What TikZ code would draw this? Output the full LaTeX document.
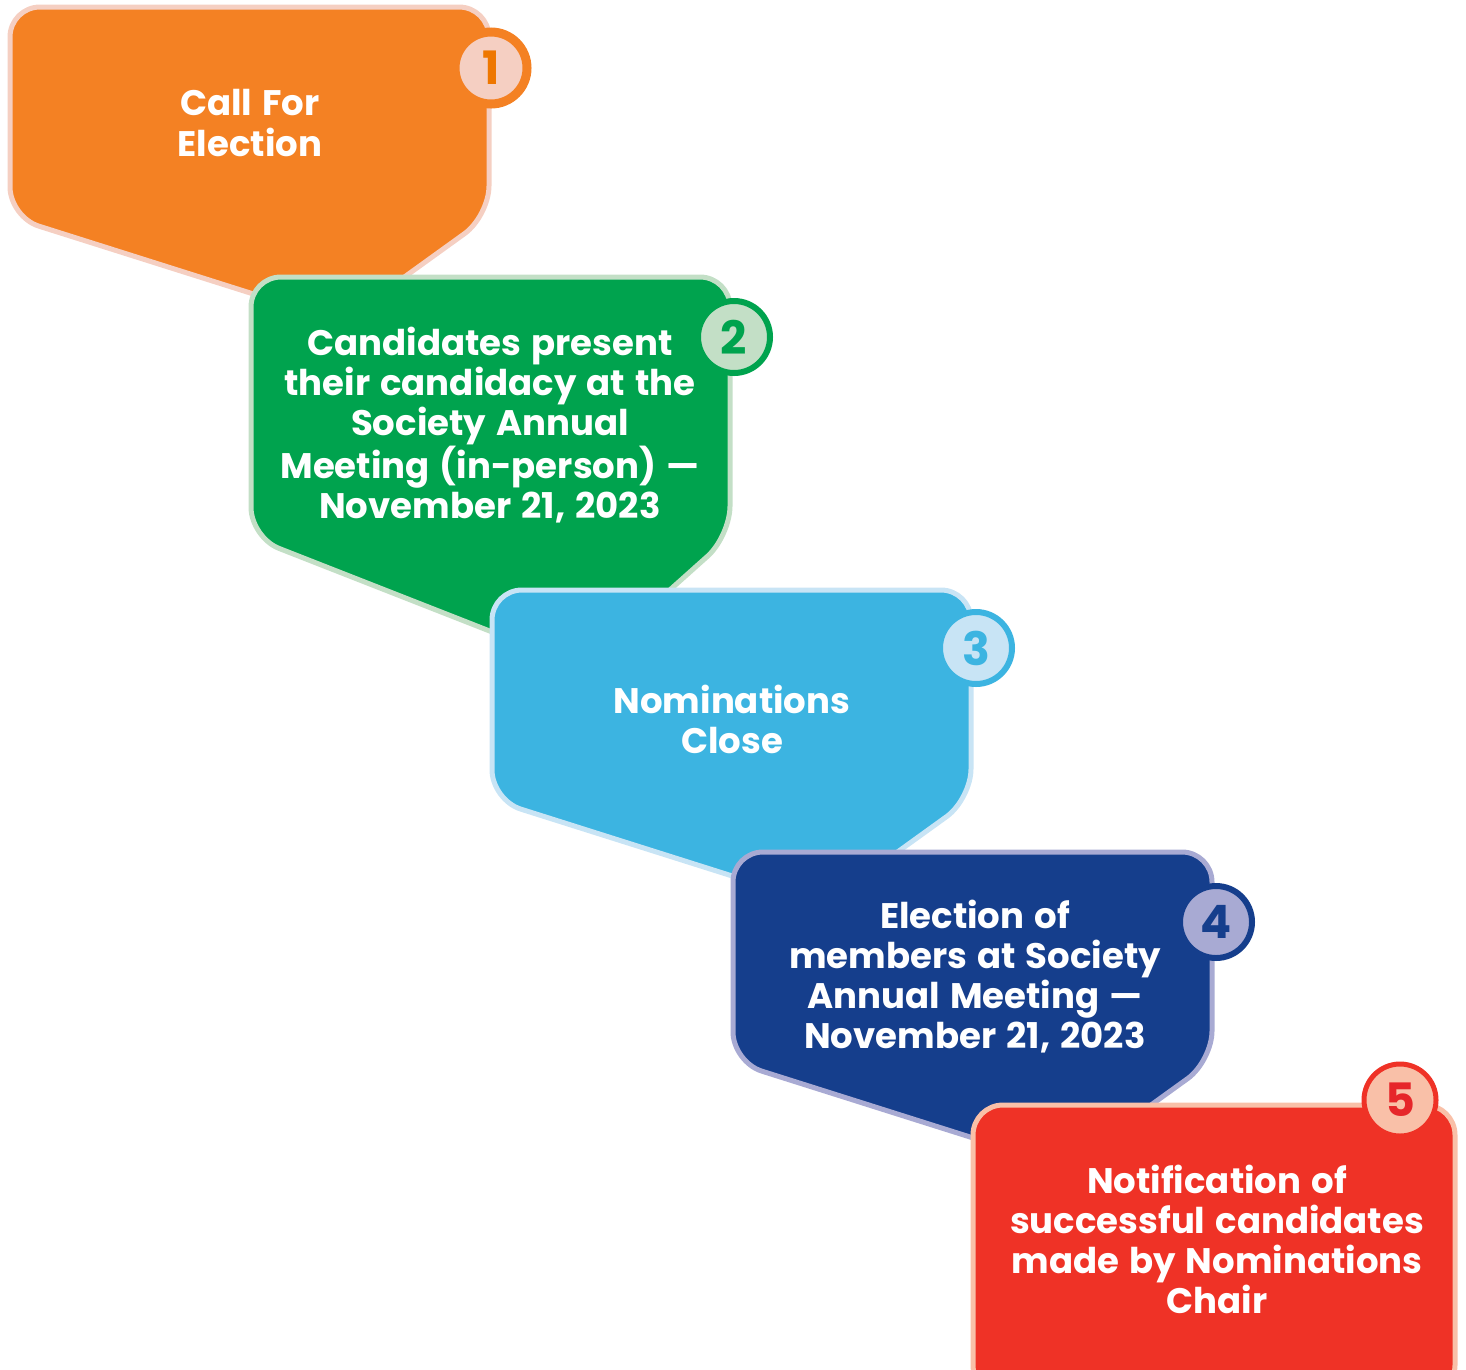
\documentclass[tikz,border=0pt]{standalone}
\usepackage{fontspec}
\setmainfont{Poppins}[WordSpace=1.35]
\usepackage{tikz}
\definecolor{orangefill}{HTML}{F48123}
\definecolor{orangeline}{HTML}{F5CFC2}
\definecolor{orangedigit}{HTML}{EE7700}
\definecolor{greenfill}{HTML}{00A34E}
\definecolor{greenline}{HTML}{C3DFC6}
\definecolor{bluefill}{HTML}{3CB4E1}
\definecolor{blueline}{HTML}{C8E4F5}
\definecolor{navyfill}{HTML}{153E8C}
\definecolor{navyline}{HTML}{A8AAD3}
\definecolor{redfill}{HTML}{EF3226}
\definecolor{redline}{HTML}{F9C0A8}
\definecolor{reddigit}{HTML}{E6262A}
\tikzset{
  stepbox/.style 2 args={
    fill=#1, draw=#2,
    line width=5pt, rounded corners=30pt
  },
  steptext/.style={
    text=white, align=center,
    font=\fontsize{35.5}{40}\selectfont\bfseries
  },
  numdot/.style n args={3}{
    circle, minimum size=72pt, inner sep=0pt,
    fill=#1, draw=#2, text=#3, line width=6pt,
    font=\fontsize{46}{46}\selectfont\bfseries
  }
}
% tag shape: left, top, vertical stretch, fill, border
\newcommand{\stepshape}[5]{%
  \begin{scope}[shift={(#1,#2)}, yscale=#3]
    \draw[stepbox={#4}{#5}] (240,0) -- (479,0) -- (479,209)
      -- (332,315) -- (0,210) -- (0,0) -- cycle;
  \end{scope}}

\begin{document}
\begin{tikzpicture}[x=1pt, y=-1pt]
  \useasboundingbox (0,0) rectangle (1466,1369);
  \clip (0,0) rectangle (1466,1369);

  % Step 1
  \stepshape{10}{7}{1}{orangefill}{orangeline}
  \node[steptext] (call) at (250,123) {Call For\\Election};
  \node[numdot={orangeline}{orangefill}{orangedigit}, line width=9pt] (n1) at (491,68) {1};

  % Step 2
  \stepshape{251}{277}{1.24}{greenfill}{greenline}
  \node[steptext] (present) at (490,425) {Candidates present\\their candidacy at the\\Society Annual\\Meeting (in-person) ---\\November 21, 2023};
  \node[numdot={greenline}{greenfill}{greenfill}] (n2) at (734,337) {2};

  % Step 3
  \stepshape{492}{590}{1}{bluefill}{blueline}
  \node[steptext] (close) at (732,719) {Nominations\\Close};
  \node[numdot={blueline}{bluefill}{bluefill}] (n3) at (976,648) {3};

  % Step 4
  \stepshape{733}{852}{1}{navyfill}{navyline}
  \node[steptext] (vote) at (975,977) {Election of\\members at Society\\Annual Meeting ---\\November 21, 2023};
  \node[numdot={navyline}{navyfill}{navyfill}] (n4) at (1216,922) {4};

  % Step 5
  \draw[stepbox={redfill}{redline}] (973,1105) rectangle (1455,1395);
  \node[steptext] (notify) at (1217,1239) {Notification of\\successful candidates\\made by Nominations\\Chair};
  \node[numdot={redline}{redfill}{reddigit}, line width=5pt] (n5) at (1400,1100) {5};
\end{tikzpicture}
\end{document}
